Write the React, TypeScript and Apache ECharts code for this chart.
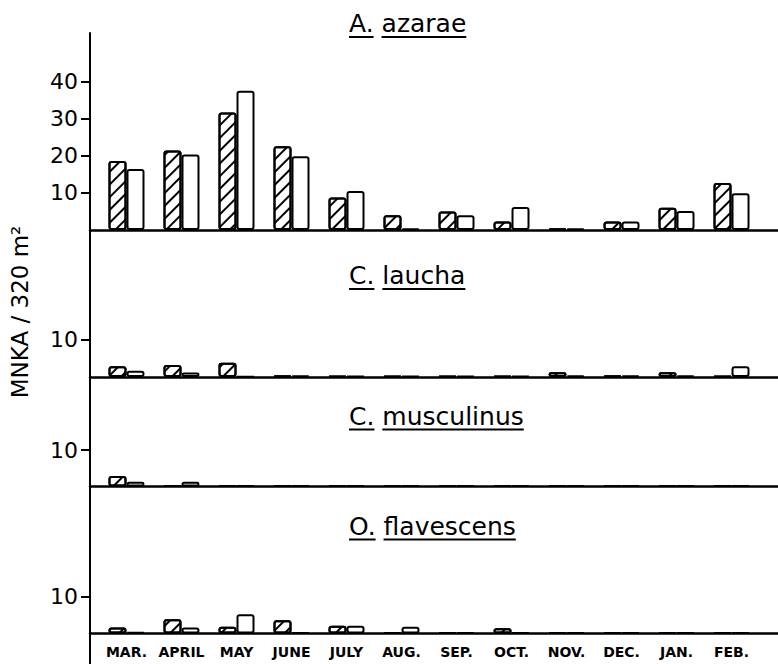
import React, { useEffect, useRef } from "react";
import * as echarts from "echarts";

// ---- data ----
const months = ["MAR.", "APRIL", "MAY", "JUNE", "JULY", "AUG.", "SEP.", "OCT.", "NOV.", "DEC.", "JAN.", "FEB."];
const monthIndex = [0, 1, 2, 3, 4, 5, 6, 7, 8, 9, 10, 11];

const genusLabels = ["A.", "C.", "C.", "O."];
const speciesLabels = ["azarae", "laucha", "musculinus", "flavescens"];

const azaraeHatched = [18.6, 21.5, 31.7, 22.6, 8.8, 4.0, 5.0, 2.3, 0.4, 2.3, 6.0, 12.7];
const azaraeOpen = [16.5, 20.4, 37.6, 19.9, 10.5, 0.4, 4.0, 6.2, 0.4, 2.3, 5.1, 9.9];

const lauchaHatched = [2.9, 3.2, 3.8, 0.4, 0.3, 0.3, 0.3, 0.3, 1.3, 0.4, 1.3, 0.3];
const lauchaOpen = [1.7, 1.2, 0.2, 0.4, 0.3, 0.3, 0.3, 0.3, 0.4, 0.4, 0.4, 2.9];

const musculinusHatched = [2.9, 0.3, 0.3, 0.3, 0.3, 0.3, 0.3, 0.3, 0.3, 0.3, 0.3, 0.3];
const musculinusOpen = [1.3, 1.3, 0.3, 0.3, 0.3, 0.3, 0.3, 0.3, 0.3, 0.3, 0.3, 0.3];

const flavescensHatched = [1.6, 3.9, 1.8, 3.6, 2.1, 0.3, 0.3, 1.4, 0.3, 0.3, 0.3, 0.3];
const flavescensOpen = [0.4, 1.6, 5.2, 0.3, 2.1, 1.8, 0.3, 0.3, 0.3, 0.3, 0.3, 0.3];

const azaraeTicks = [10, 20, 30, 40];
const smallTicks = [10];

const yAxisTitle = "MNKA / 320 m²";

// ---- layout (positions / styles) ----
const FONT = "DejaVu Sans";
const panels = [
  { top: 33, height: 197, min: 0, max: 53.2, titleBase: 32.5 },
  { top: 230, height: 147, min: 0, max: 39.2, titleBase: 284.5 },
  { top: 377, height: 109.5, min: 0, max: 30, titleBase: 425 },
  { top: 486.5, height: 147, min: 0, max: 39.9, titleBase: 535 },
];

function measure(text: string, size: number) {
  const c = document.createElement("canvas").getContext("2d");
  if (!c) return text.length * size * 0.6;
  c.font = `${size}px "${FONT}"`;
  return c.measureText(text).width;
}

export default function App() {
  const ref = useRef<HTMLDivElement>(null);

  useEffect(() => {
    if (!ref.current) return;
    const chart = echarts.init(ref.current, undefined, { renderer: "svg" });

    const hatchedSets = [azaraeHatched, lauchaHatched, musculinusHatched, flavescensHatched];
    const openSets = [azaraeOpen, lauchaOpen, musculinusOpen, flavescensOpen];
    const tickSets = [azaraeTicks, smallTicks, smallTicks, smallTicks];

    const grids = panels.map((p) => ({
      left: 90,
      width: 688,
      top: p.top,
      height: p.height,
      containLabel: false,
      outerBoundsMode: "none",
    }));

    const xAxes = panels.map((_, k) => ({
      type: "value",
      gridIndex: k,
      min: -0.6636,
      max: 11.845,
      splitLine: { show: false },
      axisLine: { show: true, onZero: true, lineStyle: { color: "#000", width: 2.5 } },
      axisTick: { show: false },
      axisLabel: {
        show: k === 3,
        customValues: monthIndex,
        formatter: (v: number) => months[Math.round(v)] ?? "",
        color: "#000",
        fontFamily: FONT,
        fontSize: 14,
        fontWeight: "bold",
        margin: 11,
      },
    }));

    const yAxes = panels.map((p, k) => ({
      type: "value",
      gridIndex: k,
      min: p.min,
      max: p.max,
      splitLine: { show: false },
      axisLine: { show: true, onZero: false, lineStyle: { color: "#000", width: 2 } },
      axisTick: {
        show: true,
        length: 9,
        customValues: tickSets[k],
        lineStyle: { color: "#000", width: 2 },
      },
      axisLabel: {
        show: true,
        customValues: tickSets[k],
        color: "#000",
        fontFamily: FONT,
        fontSize: 22,
        margin: 12,
      },
    }));

    const hatchDecal = {
      symbol: "rect",
      symbolSize: 1,
      color: "#000",
      backgroundColor: "#fff",
      dashArrayX: [1, 0],
      dashArrayY: [2, 7],
      rotation: -Math.PI / 4,
    };

    const series: any[] = [];
    panels.forEach((_, k) => {
      series.push({
        type: "bar",
        name: "hatched",
        xAxisIndex: k,
        yAxisIndex: k,
        data: hatchedSets[k].map((v, i) => [monthIndex[i], v]),
        barWidth: 18,
        barGap: "0%",
        silent: true,
        itemStyle: {
          color: "#fff",
          borderColor: "#000",
          borderWidth: 2,
          borderRadius: 2,
          decal: hatchDecal,
        },
      });
      series.push({
        type: "bar",
        name: "open",
        xAxisIndex: k,
        yAxisIndex: k,
        data: openSets[k].map((v, i) => [monthIndex[i], v]),
        barWidth: 18,
        barGap: "0%",
        silent: true,
        itemStyle: {
          color: "#fff",
          borderColor: "#000",
          borderWidth: 2,
          borderRadius: 2,
        },
      });
    });

    const TITLE_SIZE = 25;
    const titleX = 349;
    const graphics: any[] = [];
    panels.forEach((p, k) => {
      const g = genusLabels[k];
      const s = speciesLabels[k];
      const full = `${g} ${s}`;
      graphics.push({
        type: "text",
        x: titleX,
        y: p.titleBase - 0.346 * TITLE_SIZE,
        silent: true,
        style: {
          text: full,
          fill: "#000",
          fontFamily: FONT,
          fontSize: TITLE_SIZE,
          align: "left",
          verticalAlign: "middle",
        },
      });
      const uy = p.titleBase + 4.5;
      const wg = measure(g, TITLE_SIZE);
      const wgs = measure(g + " ", TITLE_SIZE);
      const wf = measure(full, TITLE_SIZE);
      graphics.push({
        type: "line",
        silent: true,
        shape: { x1: titleX, y1: uy, x2: titleX + wg, y2: uy },
        style: { stroke: "#000", lineWidth: 2 },
      });
      graphics.push({
        type: "line",
        silent: true,
        shape: { x1: titleX + wgs, y1: uy, x2: titleX + wf, y2: uy },
        style: { stroke: "#000", lineWidth: 2 },
      });
    });
    // y axis line continues below the last baseline down to the page edge
    const lastBase = panels[3].top + panels[3].height;
    graphics.push({
      type: "line",
      silent: true,
      shape: { x1: 90, y1: lastBase, x2: 90, y2: 664 },
      style: { stroke: "#000", lineWidth: 2 },
    });
    graphics.push({
      type: "text",
      x: 20,
      y: 312,
      rotation: Math.PI / 2,
      silent: true,
      style: {
        text: yAxisTitle,
        fill: "#000",
        fontFamily: FONT,
        fontSize: 23,
        align: "center",
        verticalAlign: "middle",
      },
    });

    chart.setOption({
      animation: false,
      backgroundColor: "#fff",
      textStyle: { fontFamily: FONT, color: "#000" },
      grid: grids,
      xAxis: xAxes,
      yAxis: yAxes,
      series,
      graphic: graphics,
    });

    return () => chart.dispose();
  }, []);

  return (
    <div
      ref={ref}
      style={{ position: "fixed", left: 0, top: 0, width: 778, height: 664, background: "#fff" }}
    />
  );
}
